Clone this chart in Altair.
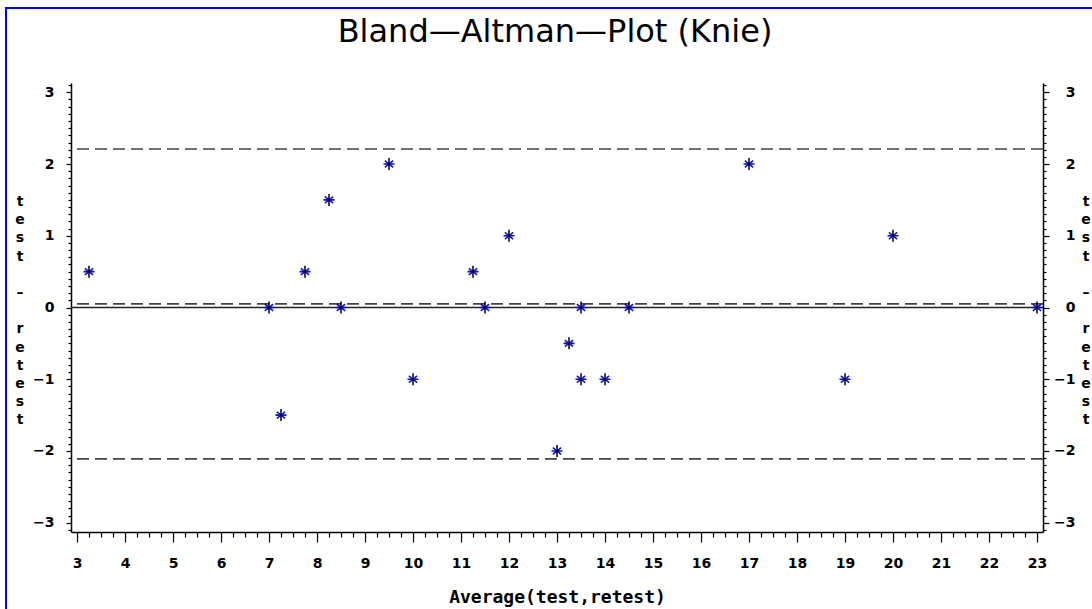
import altair as alt
import pandas as pd

# data
avg = [3.25, 7, 7.25, 7.75, 8.25, 8.5, 9.5, 10, 11.25, 11.5, 12, 13, 13.25, 13.5, 13.5, 14, 14.5, 17, 19, 20, 23]
diff = [0.5, 0, -1.5, 0.5, 1.5, 0, 2, -1, 0.5, 0, 1, -2, -0.5, 0, -1, -1, 0, 2, -1, 1, 0]
dashed_levels = [2.21, 0.05, -2.11]
zero_level = [0]
x_tick_values = [3 + i * 0.25 for i in range(81)]
y_tick_values = [round(-3.1 + i * 0.1, 1) for i in range(63)]
y_title_lines = ["t", "e", "s", "t", "", "–", "", "r", "e", "t", "e", "s", "t"]
title_text = "Bland—Altman—Plot  (Knie)"
x_title = "Average(test,retest)"

df = pd.DataFrame({"avg": avg, "diff": diff})
df_dash = pd.DataFrame({"lvl": dashed_levels})
df_zero = pd.DataFrame({"lvl": zero_level})
df_one = pd.DataFrame({"k": [0]})

FONT = "DejaVu Sans"
ISINT = "abs(datum.value - round(datum.value)) < 0.001"
LABEL_EXPR = ISINT + " ? format(round(datum.value), 'd') : ''"


def cond(a, b):
    return {"condition": {"test": ISINT, "value": a}, "value": b}


xs = alt.Scale(domain=[2.875, 23.125], nice=False, zero=False)
ys = alt.Scale(domain=[-3.13, 3.13], nice=False, zero=False)

x_axis = alt.Axis(
    orient="bottom", values=x_tick_values, labelExpr=LABEL_EXPR, labelOverlap=False,
    tickSize=cond(10, 5), labelPadding=14, grid=False,
    title=x_title, titleFont="DejaVu Sans Mono", titleFontSize=18, titlePadding=18,
)
y_left = alt.Axis(
    orient="left", values=y_tick_values, labelExpr=LABEL_EXPR, labelOverlap=False,
    tickSize=cond(5, 3), labelPadding=12, grid=False, title=None,
)
y_right = alt.Axis(
    orient="right", values=y_tick_values, labelExpr=LABEL_EXPR, labelOverlap=False,
    tickSize=cond(6, 3), labelPadding=26, labelAlign="right", grid=False, title=None,
)

star_v = alt.Chart(df).mark_point(
    shape="M0,-1L0,1", size=144, filled=False, stroke="black", strokeWidth=1.5, opacity=1
).encode(
    x=alt.X("avg:Q", scale=xs, axis=x_axis),
    y=alt.Y("diff:Q", scale=ys, axis=y_left),
)
star_b = alt.Chart(df).mark_point(
    shape="M-1,0L1,0M-0.75,-0.6L0.75,0.6M-0.75,0.6L0.75,-0.6", size=121, filled=False,
    stroke="#1010c8", strokeWidth=1.6, opacity=1
).encode(
    x=alt.X("avg:Q", scale=xs, axis=x_axis),
    y=alt.Y("diff:Q", scale=ys, axis=None),
)
dashed = alt.Chart(df_dash).mark_rule(
    color="#444444", strokeWidth=1.6, strokeDash=[12, 6]
).encode(y=alt.Y("lvl:Q", scale=ys, axis=y_right))
zero = alt.Chart(df_zero).mark_rule(color="#222222", strokeWidth=1.6).encode(
    y=alt.Y("lvl:Q", scale=ys, axis=None)
)
border = alt.Chart(df_one).mark_rect(
    fillOpacity=0, stroke="#0000ff", strokeWidth=2
).encode(
    x=alt.value(-65), x2=alt.value(1200), y=alt.value(-75), y2=alt.value(700)
)
title = alt.Chart(df_one).mark_text(
    text=title_text, font=FONT, fontSize=32, fontWeight="normal", color="black",
    align="center", baseline="alphabetic"
).encode(x=alt.value(484), y=alt.value(-41))

# vertical, letter-by-letter axis titles ("test - retest") on both sides
letter_layers = []
for side_x in (-51, 1015):
    for i, ch in enumerate(y_title_lines):
        if not ch:
            continue
        letter_layers.append(
            alt.Chart(df_one).mark_text(
                text=ch, font=FONT, fontSize=14, fontWeight="bold", color="black",
                align="center", baseline="middle"
            ).encode(x=alt.value(side_x), y=alt.value(119 + 18.2 * i))
        )

chart = alt.layer(
    border, title, *letter_layers, dashed, zero, star_b, star_v
).resolve_axis(y="independent").properties(
    width=972, height=449,
    background="white",
    autosize=alt.AutoSizeParams(type="none"),
    padding={"left": 71, "top": 83, "right": 49, "bottom": 77},
).configure_view(stroke=None).configure_axis(
    domainColor="black", domainWidth=1.5, tickColor="black", tickWidth=1.2,
    labelFont=FONT, labelFontWeight="bold", labelFontSize=14, labelColor="black",
    titleFont=FONT, titleFontWeight="bold", titleFontSize=14, titleColor="black",
)

chart.save("out.html", embed_options={"renderer": "svg", "actions": False})
